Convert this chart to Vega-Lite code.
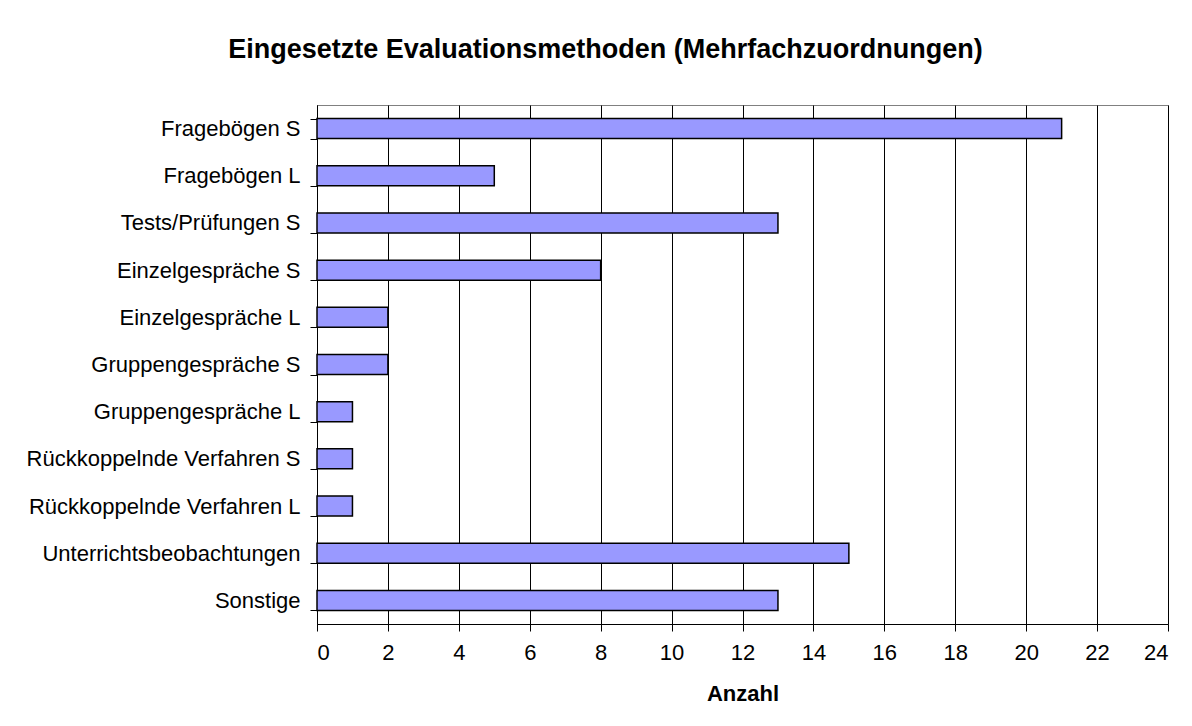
{
  "$schema": "https://vega.github.io/schema/vega-lite/v6.json",
  "autosize": {"type": "none"},
  "padding": {"left": 317, "top": 105, "right": 24, "bottom": 102},
  "width": 851,
  "height": 519,
  "background": "white",
  "title": {
    "text": "Eingesetzte Evaluationsmethoden (Mehrfachzuordnungen)",
    "font": "Liberation Sans",
    "fontSize": 27,
    "fontWeight": "bold",
    "color": "black",
    "anchor": "middle",
    "dx": -137,
    "baseline": "alphabetic",
    "offset": 9
  },
  "data": {
    "values": [
      {"Methode": "Fragebögen S", "Anzahl": 21},
      {"Methode": "Fragebögen L", "Anzahl": 5},
      {"Methode": "Tests/Prüfungen S", "Anzahl": 13},
      {"Methode": "Einzelgespräche S", "Anzahl": 8},
      {"Methode": "Einzelgespräche L", "Anzahl": 2},
      {"Methode": "Gruppengespräche S", "Anzahl": 2},
      {"Methode": "Gruppengespräche L", "Anzahl": 1},
      {"Methode": "Rückkoppelnde Verfahren S", "Anzahl": 1},
      {"Methode": "Rückkoppelnde Verfahren L", "Anzahl": 1},
      {"Methode": "Unterrichtsbeobachtungen", "Anzahl": 15},
      {"Methode": "Sonstige", "Anzahl": 13}
    ]
  },
  "mark": {"type": "bar", "fill": "#9999FF", "stroke": "black", "strokeWidth": 1.5},
  "encoding": {
    "y": {
      "field": "Methode",
      "type": "nominal",
      "sort": null,
      "scale": {"paddingInner": 0.576, "paddingOuter": 0.288},
      "axis": {
        "title": null,
        "tickBand": "extent",
        "tickSize": 7,
        "tickColor": "black",
        "domainColor": "black",
        "labelFont": "Liberation Sans",
        "labelFontSize": 22,
        "labelColor": "black",
        "labelPadding": 10,
        "labelLimit": 400,
        "grid": false
      }
    },
    "x": {
      "field": "Anzahl",
      "type": "quantitative",
      "scale": {"domain": [0, 24], "nice": false},
      "axis": {
        "values": [0, 2, 4, 6, 8, 10, 12, 14, 16, 18, 20, 22, 24],
        "title": "Anzahl",
        "titleFont": "Liberation Sans",
        "titleFontSize": 22,
        "titleFontWeight": "bold",
        "titleColor": "black",
        "titlePadding": 20,
        "tickSize": 7,
        "tickColor": "black",
        "domainColor": "black",
        "labelFont": "Liberation Sans",
        "labelFontSize": 22,
        "labelColor": "black",
        "labelPadding": 11,
        "grid": true,
        "gridColor": "black",
        "gridOpacity": 1
      }
    }
  },
  "config": {
    "view": {"stroke": "#808080", "strokeWidth": 1}
  }
}
